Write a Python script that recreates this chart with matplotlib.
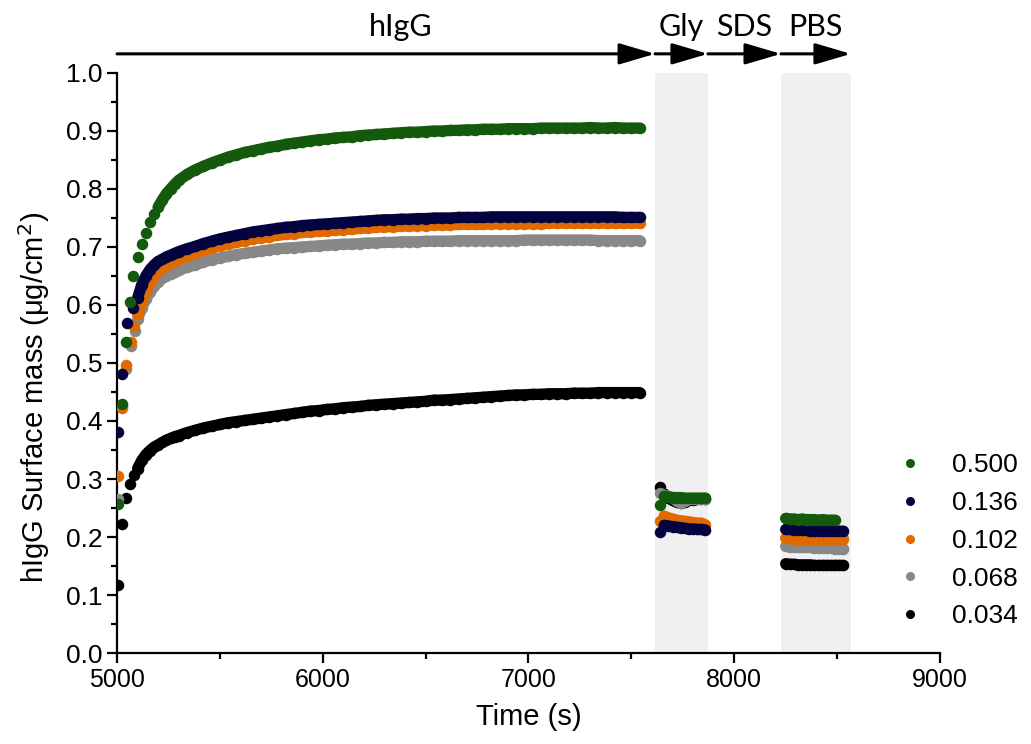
import numpy as np
import matplotlib
matplotlib.use("Agg")
import matplotlib.pyplot as plt
from matplotlib.lines import Line2D
from matplotlib.ticker import MultipleLocator, FormatStrFormatter

# concentrations (legend) and colours
labels = ['0.500', '0.136', '0.102', '0.068', '0.034']
colors = ['#145a0c', '#03033f', '#e06a00', '#888888', '#000000']

# time grid of the hIgG phase (s)
t_igg = np.r_[np.arange(5100, 5300, 20), np.arange(5300, 7541, 40)]
t_gly = np.arange(7640, 7861, 20)
t_pbs = np.arange(8250, 8531, 20)

# first (sparse) points of each curve
t_first = {
    '0.500': [5005, 5024, 5044, 5062, 5080],
    '0.136': [5005, 5023, 5050, 5079],
    '0.102': [5005, 5024, 5044, 5066, 5083],
    '0.068': [5005, 5024, 5046, 5068, 5085],
    '0.034': [5005, 5023, 5042, 5063, 5083],
}
m_first = {
    '0.500': [0.257, 0.430, 0.537, 0.606, 0.650],
    '0.136': [0.381, 0.481, 0.569, 0.594],
    '0.102': [0.305, 0.423, 0.496, 0.536, 0.564],
    '0.068': [0.265, 0.425, 0.490, 0.530, 0.555],
    '0.034': [0.117, 0.222, 0.267, 0.291, 0.307],
}

m_igg_500 = [0.682, 0.706, 0.724, 0.743, 0.757, 0.769, 0.781, 0.792, 0.800, 0.808,
             0.815, 0.825, 0.833, 0.839, 0.845, 0.850, 0.855, 0.859, 0.863, 0.866,
             0.869, 0.872, 0.874, 0.877, 0.879, 0.881, 0.883, 0.885, 0.886, 0.888,
             0.889, 0.890, 0.892, 0.893, 0.894, 0.895, 0.896, 0.897, 0.898, 0.898,
             0.899, 0.900, 0.900, 0.901, 0.901, 0.902, 0.902, 0.903, 0.903, 0.903,
             0.904, 0.904, 0.904, 0.904, 0.905, 0.905, 0.905, 0.905, 0.905, 0.905,
             0.906, 0.905, 0.905, 0.906, 0.905, 0.905, 0.905]
m_igg_136 = [0.612, 0.635, 0.650, 0.661, 0.669, 0.675, 0.679, 0.683, 0.686, 0.689,
             0.692, 0.697, 0.701, 0.706, 0.710, 0.714, 0.717, 0.720, 0.723, 0.726,
             0.728, 0.730, 0.732, 0.734, 0.735, 0.737, 0.738, 0.739, 0.740, 0.741,
             0.742, 0.743, 0.744, 0.745, 0.746, 0.747, 0.747, 0.748, 0.748, 0.749,
             0.749, 0.750, 0.750, 0.750, 0.751, 0.751, 0.751, 0.751, 0.752, 0.752,
             0.752, 0.752, 0.752, 0.752, 0.752, 0.752, 0.752, 0.752, 0.752, 0.752,
             0.752, 0.752, 0.752, 0.752, 0.751, 0.751, 0.751]
m_igg_102 = [0.584, 0.605, 0.624, 0.638, 0.650, 0.658, 0.664, 0.669, 0.673, 0.676,
             0.679, 0.684, 0.689, 0.694, 0.698, 0.702, 0.705, 0.708, 0.711, 0.714,
             0.716, 0.718, 0.720, 0.722, 0.723, 0.725, 0.726, 0.727, 0.728, 0.729,
             0.730, 0.731, 0.732, 0.733, 0.734, 0.735, 0.735, 0.736, 0.736, 0.737,
             0.737, 0.738, 0.738, 0.738, 0.739, 0.739, 0.739, 0.739, 0.740, 0.740,
             0.740, 0.740, 0.740, 0.740, 0.740, 0.741, 0.741, 0.741, 0.741, 0.741,
             0.741, 0.741, 0.741, 0.741, 0.741, 0.741, 0.741]
m_igg_068 = [0.575, 0.595, 0.610, 0.622, 0.632, 0.640, 0.646, 0.650, 0.654, 0.657,
             0.660, 0.665, 0.669, 0.674, 0.678, 0.681, 0.684, 0.687, 0.689, 0.691,
             0.693, 0.695, 0.697, 0.698, 0.699, 0.700, 0.701, 0.702, 0.703, 0.704,
             0.705, 0.705, 0.706, 0.707, 0.707, 0.708, 0.708, 0.709, 0.709, 0.709,
             0.710, 0.710, 0.710, 0.710, 0.711, 0.711, 0.711, 0.711, 0.711, 0.711,
             0.711, 0.711, 0.712, 0.712, 0.712, 0.712, 0.712, 0.712, 0.712, 0.712,
             0.712, 0.711, 0.711, 0.711, 0.711, 0.711, 0.711]
m_igg_034 = [0.318, 0.332, 0.342, 0.349, 0.355, 0.359, 0.363, 0.367, 0.370, 0.373,
             0.375, 0.380, 0.384, 0.388, 0.391, 0.394, 0.397, 0.399, 0.401, 0.403,
             0.405, 0.407, 0.409, 0.411, 0.413, 0.415, 0.417, 0.418, 0.420, 0.421,
             0.423, 0.424, 0.425, 0.427, 0.428, 0.429, 0.430, 0.431, 0.432, 0.433,
             0.434, 0.436, 0.436, 0.437, 0.438, 0.439, 0.440, 0.441, 0.442, 0.443,
             0.444, 0.445, 0.445, 0.446, 0.446, 0.447, 0.447, 0.447, 0.448, 0.448,
             0.448, 0.449, 0.449, 0.449, 0.449, 0.449, 0.449]

m_gly = {
    '0.500': [0.256, 0.270, 0.269, 0.268, 0.268, 0.268, 0.267, 0.267, 0.267, 0.267, 0.267, 0.267],
    '0.136': [0.209, 0.220, 0.219, 0.218, 0.217, 0.216, 0.215, 0.214, 0.214, 0.213, 0.213, 0.212],
    '0.102': [0.227, 0.236, 0.233, 0.231, 0.229, 0.228, 0.227, 0.226, 0.225, 0.224, 0.224, 0.221],
    '0.068': [0.276, 0.272, 0.270, 0.268, 0.262, 0.258, 0.262, 0.265, 0.266, 0.266, 0.266, 0.266],
    '0.034': [0.287, 0.274, 0.268, 0.263, 0.260, 0.258, 0.260, 0.263, 0.264, 0.265, 0.265, 0.265],
}
m_pbs = {
    '0.500': [0.232, 0.231, 0.231, 0.230, 0.231, 0.230, 0.230, 0.230, 0.229, 0.230, 0.229, 0.229, 0.229],
    '0.136': [0.213, 0.213, 0.212, 0.212, 0.212, 0.212, 0.211, 0.211, 0.211, 0.211, 0.211, 0.210, 0.210, 0.210, 0.210],
    '0.102': [0.198, 0.198, 0.197, 0.197, 0.197, 0.197, 0.197, 0.196, 0.196, 0.196, 0.196, 0.196, 0.196, 0.196, 0.196],
    '0.068': [0.184, 0.183, 0.183, 0.182, 0.182, 0.182, 0.182, 0.181, 0.181, 0.181, 0.181, 0.181, 0.180, 0.180, 0.180],
    '0.034': [0.154, 0.153, 0.153, 0.152, 0.152, 0.152, 0.152, 0.151, 0.151, 0.151, 0.151, 0.151, 0.151, 0.151, 0.151],
}
m_igg = {'0.500': m_igg_500, '0.136': m_igg_136, '0.102': m_igg_102,
         '0.068': m_igg_068, '0.034': m_igg_034}

# where the dots of each curve merge into a solid band
band_start = {'0.500': 5200, '0.136': 5100, '0.102': 5100, '0.068': 5100, '0.034': 5100}

# buffer phases: (label, start, end, shaded)
phases = [('hIgG', 5000, 7615, False), ('Gly', 7615, 7872, True),
          ('SDS', 7872, 8227, False), ('PBS', 8227, 8567, True)]

plt.rcParams['font.family'] = ['Liberation Sans', 'DejaVu Sans']

fig = plt.figure(figsize=(10.31, 7.44), dpi=100)
ax = fig.add_axes([0.1135, 0.1223, 0.7982, 0.7796])

for name, t0, t1, shaded in phases:
    if shaded:
        ax.axvspan(t0, t1, color='#f0f0f0', lw=0, zorder=0)

ms = 8.3
# black first so green ends on top
for lab, col in zip(labels[::-1], colors[::-1]):
    t = np.r_[t_first[lab], t_igg, t_gly, t_pbs[:len(m_pbs[lab])]]
    m = np.r_[m_first[lab], m_igg[lab], m_gly[lab], m_pbs[lab]]
    ax.plot(t, m, 'o', color=col, ms=ms, mec='none', zorder=3)
    # dense measurements overlap into a continuous band
    ti, mi = np.asarray(t_igg), np.asarray(m_igg[lab])
    keep = ti >= band_start[lab]
    for tt, mm in [(ti[keep], mi[keep]), (t_gly[1:], m_gly[lab][1:]),
                   (t_pbs[:len(m_pbs[lab])], m_pbs[lab])]:
        ax.plot(tt, mm, '-', color=col, lw=ms * 0.98, solid_capstyle='round',
                solid_joinstyle='round', zorder=3)

# arrows and phase names above the plot
for name, t0, t1, shaded in phases:
    ax.annotate('', xy=(t1, 1.033), xytext=(t0, 1.033), xycoords='data',
                annotation_clip=False,
                arrowprops=dict(arrowstyle='-|>,head_length=2.2,head_width=0.65',
                                mutation_scale=10, lw=2.2, color='black',
                                shrinkA=0, shrinkB=0))
    xc = 6380 if name == 'hIgG' else (t0 + t1) / 2
    ax.text(xc, 1.08, name, ha='center', va='center', fontsize=22,
            family=['Lato', 'DejaVu Sans'], clip_on=False)

ax.set_xlim(5000, 9000)
ax.set_ylim(0, 1.0)
ax.xaxis.set_major_locator(MultipleLocator(1000))
ax.xaxis.set_minor_locator(MultipleLocator(500))
ax.yaxis.set_major_locator(MultipleLocator(0.1))
ax.yaxis.set_minor_locator(MultipleLocator(0.05))
ax.yaxis.set_major_formatter(FormatStrFormatter('%.1f'))
for s in ['top', 'right']:
    ax.spines[s].set_visible(False)
for s in ['left', 'bottom']:
    ax.spines[s].set_linewidth(1.6)
ax.tick_params(which='major', direction='out', length=7, width=1.6, labelsize=19)
ax.tick_params(which='minor', direction='out', length=4, width=1.6)
for lbl in ax.get_xticklabels():
    lbl.set_fontsize(18)

ax.set_xlabel('Time (s)', fontsize=21, labelpad=8)
ax.set_ylabel('hIgG Surface mass (\u03bcg/cm$^2$)', fontsize=21)
ax.yaxis.set_label_coords(-0.079, 0.441)

handles = [Line2D([], [], ls='none', marker='o', ms=6.5, color=c, mec='none') for c in colors]
ax.legend(handles, labels, loc='upper left', bbox_to_anchor=(0.919, 0.385), frameon=False,
          fontsize=19, handletextpad=1.1, labelspacing=0.52, handlelength=1.0)

fig.savefig('out.png', dpi=100)
